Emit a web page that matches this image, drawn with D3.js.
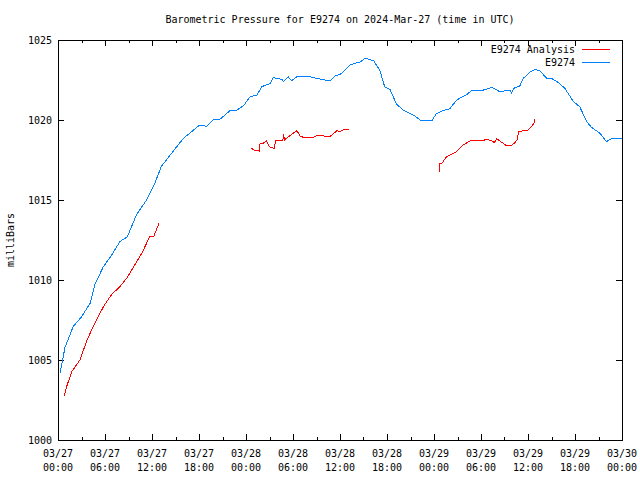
<!DOCTYPE html>
<html><head><meta charset="utf-8">
<script src="https://cdn.jsdelivr.net/npm/d3@7"></script>
<style>
body{margin:0;background:#fff;}
text{font-family:"DejaVu Sans Mono","Liberation Mono",monospace;font-size:10px;fill:#000;}
</style></head>
<body><svg id="c" width="640" height="480"></svg>
<script>
// Hours after 2024-03-27 00:00 UTC
const stationHours = [0.26,0.9,1.95,3.0,4.1,4.7,5.75,6.85,7.9,8.85,10.0,11.3,12.4,13.2,14.3,15.6,16.0,18.1,19.0,19.8,20.7,22,22.8,23.7,24.5,25.4,26.0,27.1,27.5,28.6,28.8,29.4,29.8,30.5,32.2,33.0,34.7,35.4,36.2,37.3,38.6,39.2,40.3,41.1,41.7,42.4,43.2,44.1,45.4,46.4,47.7,48.3,49.2,50.0,50.9,52.2,52.8,54.3,55.4,56.4,57.7,57.9,58.3,58.9,59.4,60.3,60.9,61.5,62.4,63.0,63.9,64.7,65.8,66.6,67.5,68.1,69.2,70.0,70.7,71.7,72.0];
const stationValues = [1004.2,1005.8,1007.1,1007.7,1008.55,1009.7,1010.8,1011.55,1012.4,1012.7,1014.06,1015.0,1016.1,1017.1,1017.8,1018.6,1018.85,1019.69,1019.6,1020.0,1020.06,1020.6,1020.6,1020.9,1021.45,1021.56,1022.08,1022.29,1022.65,1022.54,1022.4,1022.7,1022.45,1022.7,1022.7,1022.6,1022.45,1022.75,1022.9,1023.44,1023.64,1023.86,1023.7,1023.1,1022.08,1021.9,1021.0,1020.6,1020.3,1019.94,1019.94,1020.4,1020.6,1020.7,1021.25,1021.6,1021.83,1021.87,1022.04,1021.77,1021.87,1021.7,1022.04,1022.08,1022.6,1023.02,1023.17,1023.08,1022.6,1022.6,1022.33,1021.98,1021.15,1020.83,1019.9,1019.54,1019.17,1018.65,1018.83,1018.83,1018.83];

const analysisHours1 = [0.8,1.1,1.75,2.8,3.7,4.7,5.8,6.85,7.9,8.85,9.8,10.7,11.7,12.2,12.9];
const analysisValues1 = [1002.75,1003.33,1004.27,1005.0,1006.25,1007.3,1008.33,1009.1,1009.58,1010.17,1010.94,1011.67,1012.7,1012.7,1013.54];
const analysisHours2 = [24.7,25.1,25.7,25.8,26.2,26.6,27.0,27.6,27.8,28.7,28.8,28.9,29.6,30.5,30.9,31.3,32.6,33.2,33.9,34.7,35.6,36.0,36.6,37.1];
const analysisValues2 = [1018.23,1018.1,1018.06,1018.54,1018.54,1018.7,1018.33,1018.23,1018.7,1018.7,1019.1,1018.75,1019.02,1019.33,1019.0,1018.92,1018.92,1019.06,1019.0,1018.96,1019.33,1019.27,1019.42,1019.42];
const analysisHours3 = [48.7,48.7,49.0,49.6,50.7,51.7,52.6,54.1,54.7,55.4,55.7,56.0,56.4,57.3,57.8,58.3,58.6,58.8,59.4,59.9,60.5,60.8,60.8];
const analysisValues3 = [1016.77,1017.25,1017.29,1017.71,1017.96,1018.44,1018.69,1018.69,1018.79,1018.69,1018.58,1018.83,1018.69,1018.38,1018.38,1018.58,1018.75,1019.27,1019.33,1019.33,1019.63,1019.83,1020.06];

const yTicks = [1000,1005,1010,1015,1020,1025];
const titleText = "Barometric Pressure for E9274 on 2024-Mar-27 (time in UTC)";
const yLabel = "milliBars";
const legendNames = ["E9274 Analysis","E9274"];
const colors = ["#ff0000","#0080ff"];

const start = Date.UTC(2024,2,27,0,0);
const toDate = h => new Date(start + h*3600000);

const svg = d3.select("#c");
const m = {l:58,r:18,t:40,b:40};
const W = 640, H = 480;
const x = d3.scaleUtc().domain([toDate(0), toDate(72)]).range([m.l, W-m.r]);
const y = d3.scaleLinear().domain([1000,1025]).range([H-m.b, m.t]);

const majorT = d3.range(0,73,6).map(toDate);
const minorT = d3.range(0,73,3).map(toDate);
const fmtD = d3.utcFormat("%m/%d"), fmtT = d3.utcFormat("%H:%M");

// ticks
const g = svg.append("g").attr("stroke","#000").attr("stroke-width",1).attr("shape-rendering","crispEdges");
minorT.forEach(d=>{
  const isMajor = (d - start) % (6*3600000) === 0;
  const len = isMajor ? 6 : 3;
  const xx = Math.round(x(d))+0.5;
  g.append("line").attr("x1",xx).attr("x2",xx).attr("y1",H-m.b).attr("y2",H-m.b-len);
  g.append("line").attr("x1",xx).attr("x2",xx).attr("y1",m.t).attr("y2",m.t+len);
});
yTicks.forEach(v=>{
  const yy = Math.round(y(v))+0.5;
  g.append("line").attr("x1",m.l).attr("x2",m.l+6).attr("y1",yy).attr("y2",yy);
  g.append("line").attr("x1",W-m.r).attr("x2",W-m.r-6).attr("y1",yy).attr("y2",yy);
  svg.append("text").attr("x",m.l-6).attr("y",y(v)+4).attr("text-anchor","end").text(v);
});
majorT.forEach(d=>{
  svg.append("text").attr("x",x(d)).attr("y",H-m.b+17).attr("text-anchor","middle").text(fmtD(d));
  svg.append("text").attr("x",x(d)).attr("y",H-m.b+31).attr("text-anchor","middle").text(fmtT(d));
});

// lines
const line = d3.line().x(d=>x(toDate(d[0]))).y(d=>y(d[1]));
const zip = (a,b)=>a.map((v,i)=>[v,b[i]]);
svg.append("path").attr("d",line(zip(stationHours,stationValues))).attr("fill","none").attr("stroke",colors[1]).attr("stroke-width",1).attr("shape-rendering","crispEdges");
[[analysisHours1,analysisValues1],[analysisHours2,analysisValues2],[analysisHours3,analysisValues3]].forEach(([h,v])=>{
  svg.append("path").attr("d",line(zip(h,v))).attr("fill","none").attr("stroke",colors[0]).attr("stroke-width",1).attr("shape-rendering","crispEdges");
});

// frame
svg.append("rect").attr("x",m.l+0.5).attr("y",m.t+0.5).attr("width",W-m.l-m.r).attr("height",H-m.t-m.b)
  .attr("fill","none").attr("stroke","#000").attr("shape-rendering","crispEdges");

// title
svg.append("text").attr("x",(m.l+W-m.r)/2).attr("y",23).attr("text-anchor","middle").text(titleText);
// y label
svg.append("text").attr("transform","translate(14,240) rotate(-90)").attr("text-anchor","middle").text(yLabel);

// legend
legendNames.forEach((n,i)=>{
  const ly = 49 + i*13;
  svg.append("text").attr("x",575).attr("y",ly+4).attr("text-anchor","end").text(n);
  svg.append("line").attr("x1",582).attr("x2",610).attr("y1",ly+0.5).attr("y2",ly+0.5).attr("stroke",colors[i]).attr("shape-rendering","crispEdges");
});
</script></body></html>
